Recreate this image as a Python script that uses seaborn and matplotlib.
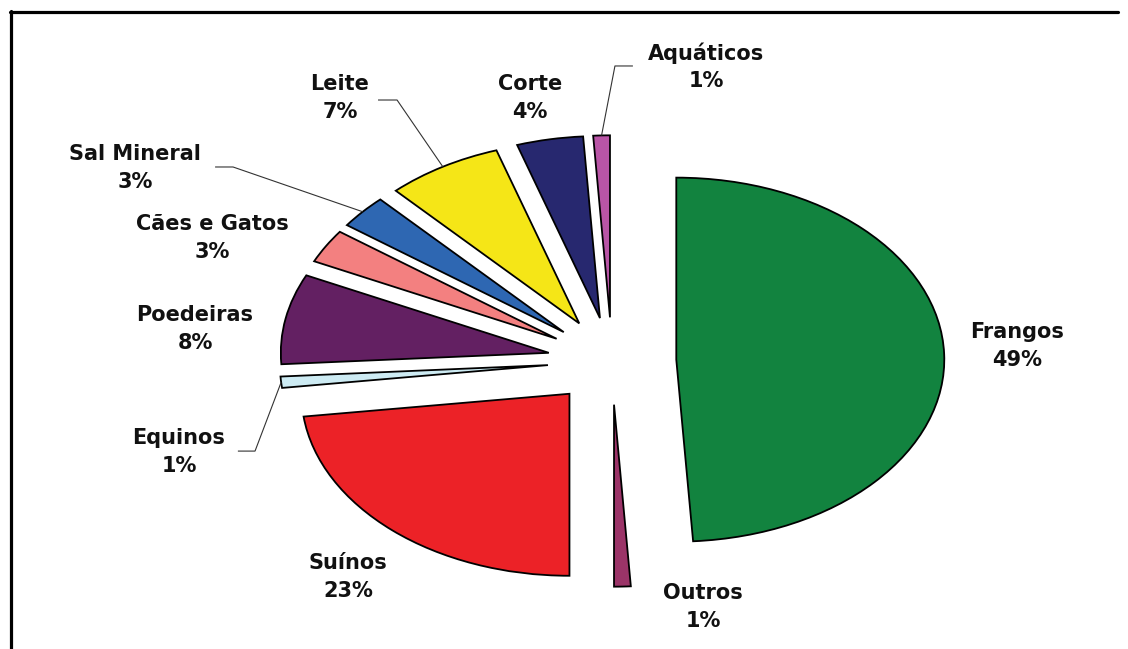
import matplotlib
matplotlib.use("Agg")
import matplotlib.pyplot as plt
from matplotlib.lines import Line2D
import numpy as np
import seaborn as sns

# Market share by feed segment (%)
segments = ["Frangos", "Outros", "Suínos", "Equinos", "Poedeiras",
            "Cães e Gatos", "Sal Mineral", "Leite", "Corte", "Aquáticos"]
shares = [49, 1, 23, 1, 8, 3, 3, 7, 4, 1]
slice_colors = ["#12833F", "#9B3468", "#EC2227", "#CDEBF3", "#632062",
                "#F38080", "#2E67B2", "#F5E617", "#27286F", "#B955A6"]

# Label block centres (data units of the pie, radius = 1)
label_xy = {
    "Frangos": (1.511, 0.082),
    "Outros": (0.340, -1.352),
    "Suínos": (-0.985, -1.187),
    "Equinos": (-1.616, -0.500),
    "Poedeiras": (-1.556, 0.176),
    "Cães e Gatos": (-1.493, 0.676),
    "Sal Mineral": (-1.780, 1.060),
    "Leite": (-1.015, 1.445),
    "Corte": (-0.306, 1.445),
    "Aquáticos": (0.351, 1.615),
}
# Leader lines: start next to the label, then a knee, then to the slice
leader_pts = {
    "Aquáticos": [(0.078, 1.621), (0.011, 1.621)],
    "Leite": [(-0.873, 1.434), (-0.802, 1.434)],
    "Sal Mineral": [(-1.481, 1.066), (-1.414, 1.066)],
    "Equinos": [(-1.396, -0.495), (-1.332, -0.495)],
}

sns.set_theme(style="white")
plt.rcParams["font.family"] = ["DejaVu Sans"]

fig = plt.figure(figsize=(11.28, 6.49), dpi=100)
ax = fig.add_axes([0, 0, 1, 1])

wedges, _ = ax.pie(
    shares,
    colors=sns.color_palette(slice_colors),
    explode=[0.24] * len(shares),
    startangle=90,
    counterclock=False,
    wedgeprops=dict(edgecolor="black", linewidth=1.3),
)
# stretched (elliptical) pie
ax.set_aspect("auto")
ax.set_xlim(-2.2836, 1.9254)
ax.set_ylim(-1.5824, 1.9835)
ax.axis("off")

for name, pct, w in zip(segments, shares, wedges):
    x, y = label_xy[name]
    ax.text(x, y, f"{name}\n{pct}%", ha="center", va="center",
            fontsize=15, fontweight="bold", color="#111111", linespacing=1.45)
    if name in leader_pts:
        mid = np.deg2rad((w.theta1 + w.theta2) / 2)
        cx, cy = w.center
        end = (cx + w.r * np.cos(mid), cy + w.r * np.sin(mid))
        pts = leader_pts[name] + [end]
        ax.plot([p[0] for p in pts], [p[1] for p in pts],
                color="#333333", lw=0.8, solid_capstyle="butt")

# partial outer frame (top and left)
W, H = 1128, 649
fig.add_artist(Line2D([10 / W, 1118 / W], [1 - 12 / H, 1 - 12 / H],
                      transform=fig.transFigure, color="black", lw=2.3))
fig.add_artist(Line2D([11 / W, 11 / W], [1 - 11 / H, 0],
                      transform=fig.transFigure, color="black", lw=2.3))

fig.savefig("out.png", dpi=100)
